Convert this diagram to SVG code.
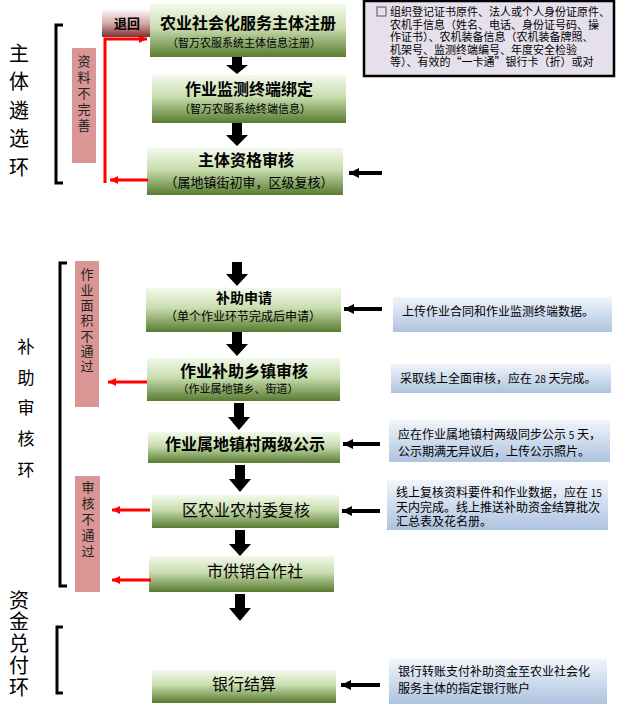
<svg xmlns="http://www.w3.org/2000/svg" width="621" height="705" viewBox="0 0 621 705">
<defs>
<linearGradient id="gGreen" x1="0" y1="0" x2="0" y2="1">
<stop offset="0" stop-color="#f3f9ec"/>
<stop offset="0.45" stop-color="#c9deaf"/>
<stop offset="1" stop-color="#587b30"/>
</linearGradient>
<linearGradient id="gBlue" x1="0" y1="0" x2="0" y2="1">
<stop offset="0" stop-color="#f1f5fb"/>
<stop offset="1" stop-color="#adc3df"/>
</linearGradient>
<linearGradient id="gRed" x1="0" y1="0" x2="0" y2="1">
<stop offset="0" stop-color="#fbf3f3"/>
<stop offset="0.5" stop-color="#d6a9a9"/>
<stop offset="1" stop-color="#7f2f2f"/>
</linearGradient>
<marker id="redHead" markerWidth="10" markerHeight="10" refX="8" refY="4" orient="auto" markerUnits="userSpaceOnUse">
<path d="M0,0 L8,4 L0,8 Z" fill="#ff0000"/>
</marker>
<marker id="blkHead" markerWidth="12" markerHeight="12" refX="10" refY="5" orient="auto" markerUnits="userSpaceOnUse">
<path d="M0,0 L10,5 L0,10 Z" fill="#000"/>
</marker>
</defs>
<style>
text{font-family:"Noto Sans CJK SC","Liberation Sans",sans-serif;fill:#000}
.green{fill:url(#gGreen)}
.blue{fill:url(#gBlue)}
.pink{fill:#d99694}
.c{text-anchor:middle}
.b16{font-size:16px;font-weight:bold}
.n16{font-size:16px}
.s11{font-size:11px}
.note{font-size:12px}
.nt{font-size:11px}
.vert{writing-mode:vertical-rl;text-orientation:upright}
.side{font-size:20px}
.side2{font-size:17px}
.vt{font-size:13px;fill:#222}
.br{fill:none;stroke:#000;stroke-width:3}
.red{stroke:#ff0000;stroke-width:3;fill:none}
.bl{stroke:#000;stroke-width:4;fill:none}
</style>

<g id="labels">
<text class="vert side" x="19" y="43" letter-spacing="8.5">主体遴选环</text>
<text class="vert side2" x="26" y="338" letter-spacing="13.7">补助审核环</text>
<text class="vert side" x="19" y="590" letter-spacing="1.8">资金兑付环</text>
</g>

<g id="brackets">
<path class="br" d="M63,25 H56 V183 H63"/>
<path class="br" d="M67,263 H60 V586 H67"/>
<path class="br" d="M63,627 H57 V693 H63"/>
</g>

<g id="pink1">
<rect class="pink" x="72" y="48" width="24" height="115"/>
<text class="vert vt" x="84" y="55" letter-spacing="2.8">资料不完善</text>
</g>
<g id="pink2">
<rect class="pink" x="75" y="261" width="24" height="146"/>
<text class="vert vt" x="87" y="268" letter-spacing="2.3">作业面积不通过</text>
</g>
<g id="pink3">
<rect class="pink" x="75" y="476" width="25" height="116"/>
<text class="vert vt" x="88" y="481" letter-spacing="2.8">审核不通过</text>
</g>

<g id="note">
<rect x="364" y="1" width="250" height="75" fill="#e5e0ec" stroke="#000" stroke-width="2.5"/>
<rect x="377" y="7" width="9" height="9" fill="none" stroke="#555" stroke-width="1"/>
<text class="nt"><tspan x="390" y="16">组织登记证书原件、法人或个人身份证原件、</tspan><tspan x="390" y="28.5">农机手信息（姓名、电话、身份证号码、操</tspan><tspan x="390" y="41">作证书）、农机装备信息（农机装备牌照、</tspan><tspan x="390" y="53.5">机架号、监测终端编号、年度安全检验</tspan><tspan x="390" y="66">等）、有效的“一卡通”银行卡（折）或对</tspan></text>
</g>

<g id="tuihui">
<rect x="102" y="10" width="50" height="27" fill="url(#gRed)"/>
<text x="127" y="28" font-size="13" font-weight="bold" text-anchor="middle">退回</text>
</g>

<g id="n1">
<rect class="green" x="150" y="4" width="196" height="53"/>
<text class="c"><tspan class="b16" x="248" y="29">农业社会化服务主体注册</tspan><tspan class="s11" x="244" y="47">（智万农服系统主体信息注册）</tspan></text>
</g>
<g id="n2">
<rect class="green" x="152" y="75" width="194" height="48"/>
<text class="c"><tspan class="b16" x="249" y="95">作业监测终端绑定</tspan><tspan class="s11" x="245" y="113">（智万农服系统终端信息）</tspan></text>
</g>
<g id="n3">
<rect class="green" x="147" y="148" width="196" height="47"/>
<text class="c"><tspan class="b16" x="246" y="166">主体资格审核</tspan><tspan font-size="13" x="249" y="187">（属地镇街初审，区级复核）</tspan></text>
</g>

<g id="n4">
<rect class="green" x="146" y="288" width="195" height="44"/>
<text class="c"><tspan font-size="14" font-weight="bold" x="244" y="303">补助申请</tspan><tspan font-size="12" x="243" y="321">（单个作业环节完成后申请）</tspan></text>
</g>
<g id="n5">
<rect class="green" x="147" y="358" width="193" height="43"/>
<text class="c"><tspan class="b16" x="244" y="377">作业补助乡镇审核</tspan><tspan class="s11" x="238" y="393">（作业属地镇乡、街道）</tspan></text>
</g>
<g id="n6">
<rect class="green" x="148" y="432" width="192" height="31"/>
<text class="c b16" x="245" y="450">作业属地镇村两级公示</text>
</g>
<g id="n7">
<rect class="green" x="152" y="495" width="187" height="33"/>
<text class="c n16" x="246" y="516">区农业农村委复核</text>
</g>
<g id="n8">
<rect class="green" x="149" y="556" width="185" height="36"/>
<text class="c n16" x="255" y="577">市供销合作社</text>
</g>
<g id="n9">
<rect class="green" x="152" y="670" width="184" height="33"/>
<text class="c n16" x="244" y="690">银行结算</text>
</g>

<g id="b1">
<rect class="blue" x="393" y="297" width="219" height="35"/>
<text class="note" x="402" y="316">上传作业合同和作业监测终端数据。</text>
</g>
<g id="b2">
<rect class="blue" x="391" y="364" width="220" height="29"/>
<text class="note" x="400" y="383">采取线上全面审核，应在 <tspan font-size="10">28</tspan> 天完成。</text>
</g>
<g id="b3">
<rect class="blue" x="389" y="420" width="221" height="42"/>
<text class="note"><tspan x="398" y="439">应在作业属地镇村两级同步公示 <tspan font-size="10">5</tspan> 天，</tspan><tspan x="398" y="456">公示期满无异议后，上传公示照片。</tspan></text>
</g>
<g id="b4">
<rect class="blue" x="387" y="480" width="221" height="50"/>
<text class="note"><tspan x="396" y="497">线上复核资料要件和作业数据，应在 <tspan font-size="10">15</tspan></tspan><tspan x="396" y="512">天内完成。线上推送补助资金结算批次</tspan><tspan x="396" y="526">汇总表及花名册。</tspan></text>
</g>
<g id="b5">
<rect class="blue" x="389" y="659" width="218" height="45"/>
<text class="note"><tspan x="398" y="676">银行转账支付补助资金至农业社会化</tspan><tspan x="398" y="693">服务主体的指定银行账户</tspan></text>
</g>

<g id="connectors">
<path fill="#000" d="M232,57 h10 v8 h6 l-11,9 l-11,-9 h6 z"/>
<path fill="#000" d="M232,123 h10 v12 h6 l-11,11 l-11,-11 h6 z"/>
<path fill="#000" d="M232,262 h10 v12 h6 l-11,12 l-11,-12 h6 z"/>
<path fill="#000" d="M232,332 h10 v12 h6 l-11,12 l-11,-12 h6 z"/>
<path fill="#000" d="M234,403 h10 v14 h6 l-11,13 l-11,-13 h6 z"/>
<path fill="#000" d="M235,465 h10 v14 h6 l-11,13 l-11,-13 h6 z"/>
<path fill="#000" d="M235,530 h10 v14 h6 l-11,12 l-11,-12 h6 z"/>
<path fill="#000" d="M235,594 h10 v14 h6 l-11,13 l-11,-13 h6 z"/>

<line class="bl" x1="382" y1="173" x2="349" y2="173" marker-end="url(#blkHead)"/>
<line class="bl" x1="382" y1="309" x2="344" y2="309" marker-end="url(#blkHead)"/>
<line class="bl" x1="380" y1="444" x2="343" y2="444" marker-end="url(#blkHead)"/>
<line class="bl" x1="380" y1="511" x2="342" y2="511" marker-end="url(#blkHead)"/>
<line class="bl" x1="380" y1="685" x2="341" y2="685" marker-end="url(#blkHead)"/>

<path class="red" d="M105,183 V39 H147" marker-end="url(#redHead)"/>
<line class="red" x1="148" y1="180" x2="110" y2="180" marker-end="url(#redHead)"/>
<line class="red" x1="147" y1="382" x2="108" y2="382" marker-end="url(#redHead)"/>
<line class="red" x1="150" y1="510" x2="112" y2="510" marker-end="url(#redHead)"/>
<line class="red" x1="151" y1="580" x2="112" y2="580" marker-end="url(#redHead)"/>
</g>
</svg>
